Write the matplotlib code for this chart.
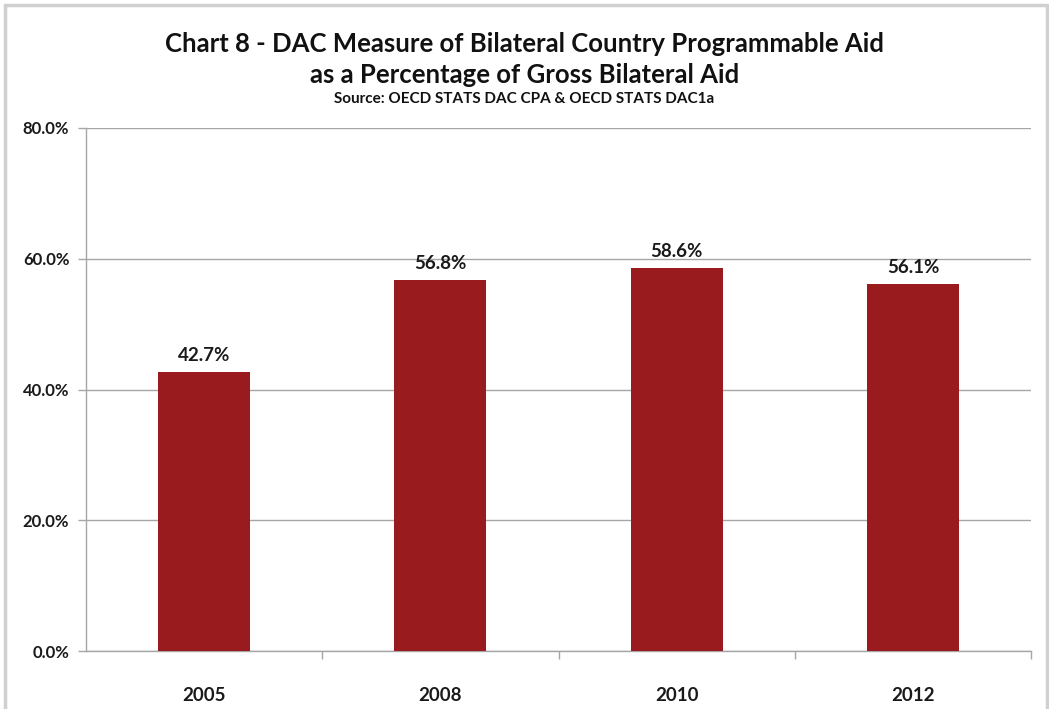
import matplotlib
matplotlib.use("Agg")
import matplotlib.pyplot as plt
from matplotlib.patches import Rectangle
from matplotlib.ticker import FuncFormatter, FixedLocator

plt.rcParams['font.family'] = ['Lato', 'DejaVu Sans']

years = ['2005', '2008', '2010', '2012']
cpa_share = [42.7, 56.8, 58.6, 56.1]
bar_color = '#991b1e'

fig = plt.figure(figsize=(10.49, 7.09), dpi=100)
ax = fig.add_axes([86 / 1049, 1 - 651 / 709, (1031 - 86) / 1049, (651 - 128) / 709])

x = range(len(years))
ax.bar(x, cpa_share, width=0.39, color=bar_color, zorder=3)
for xi, v in zip(x, cpa_share):
    ax.text(xi, v + 1.2, f'{v:.1f}%', ha='center', va='bottom',
            fontsize=13.5, fontweight='bold', color='#1a1a1a')

ax.set_xlim(-0.5, len(years) - 0.5)
ax.set_ylim(0, 80)
ax.set_yticks([0, 20, 40, 60, 80])
ax.yaxis.set_major_formatter(FuncFormatter(lambda v, p: f'{v:.1f}%'))
ax.set_xticks(list(x))
ax.set_xticklabels(years)
ax.xaxis.set_minor_locator(FixedLocator([i + 0.5 for i in range(len(years))]))
ax.tick_params(axis='x', which='major', length=0, pad=26, labelsize=13.5)
ax.tick_params(axis='x', which='minor', length=6, color='#a6a6a6', width=1)
ax.tick_params(axis='y', length=6, color='#a6a6a6', width=1, labelsize=12, pad=6)
for lab in ax.get_xticklabels() + ax.get_yticklabels():
    lab.set_fontweight('bold')
    lab.set_color('#1a1a1a')

ax.grid(axis='y', color='#a6a6a6', linewidth=1, zorder=0)
for side in ['top', 'right']:
    ax.spines[side].set_visible(False)
for side in ['left', 'bottom']:
    ax.spines[side].set_color('#a6a6a6')
    ax.spines[side].set_linewidth(1)

fig.text(0.5, 1 - 44 / 709, 'Chart 8 - DAC Measure of Bilateral Country Programmable Aid',
         ha='center', va='center', fontsize=18.5, fontweight='bold', color='#111111')
fig.text(0.5, 1 - 75 / 709, 'as a Percentage of Gross Bilateral Aid',
         ha='center', va='center', fontsize=18.5, fontweight='bold', color='#111111')
fig.text(0.5, 1 - 99 / 709, 'Source: OECD STATS DAC CPA & OECD STATS DAC1a',
         ha='center', va='center', fontsize=11, fontweight='bold', color='#111111')

# light frame around the chart area
fig.patches.append(Rectangle((5 / 1049, -0.05), 1042 / 1049, 1.05 - 5 / 709,
                             transform=fig.transFigure, fill=False,
                             edgecolor='#d0d0d0', linewidth=2.5))

fig.savefig('out.png', dpi=100)
